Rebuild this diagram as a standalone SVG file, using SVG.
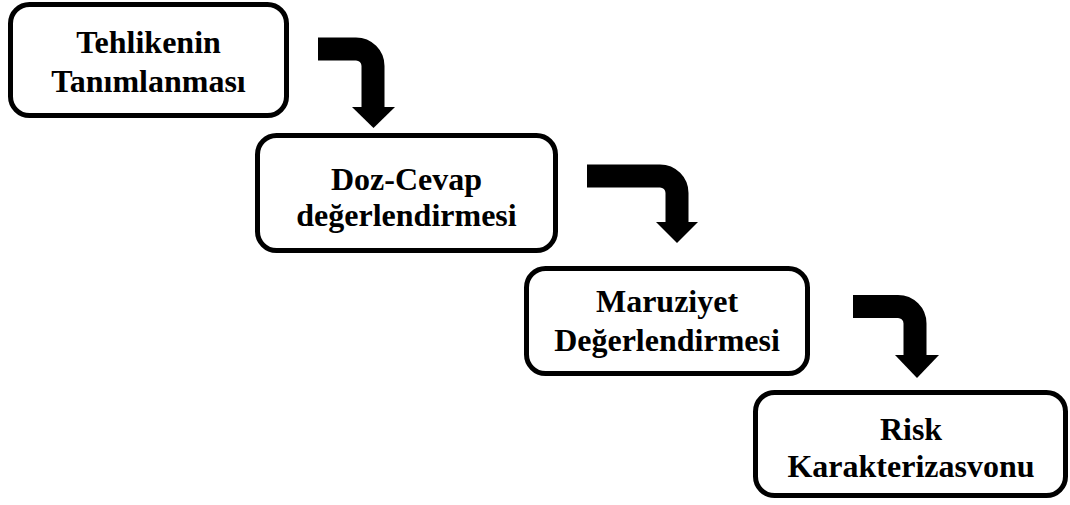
<svg xmlns="http://www.w3.org/2000/svg" width="1070" height="505" viewBox="0 0 1070 505">
<style>
.box{fill:#fff;stroke:#000;stroke-width:5}
.t{font-family:"Liberation Serif","Times New Roman",serif;font-weight:bold;font-size:32px;fill:#000;text-anchor:middle}
.body{fill:none;stroke:#000;stroke-width:23;stroke-linejoin:round}
.head{fill:#000}
</style>
<rect width="1070" height="505" fill="#fff"/>
<g id="connectors">
<path class="body" d="M318,49 H356 A17,17 0 0 1 373,66 V108"/>
<polygon class="head" points="352,107 395,107 373.5,128"/>
<path class="body" d="M587,176 H660 A17,17 0 0 1 677,193 V223"/>
<polygon class="head" points="656,222 698,222 677,243"/>
<path class="body" d="M853,306.5 H898 A17,17 0 0 1 915,323.5 V356"/>
<polygon class="head" points="895,355 939,355 917,378"/>
</g>
<g id="n1">
<rect class="box" x="10.5" y="4.5" width="276" height="111" rx="19"/>
<text class="t" x="148.5" y="53">Tehlikenin</text>
<text class="t" x="148.5" y="92">Tanımlanması</text>
</g>
<g id="n2">
<rect class="box" x="257.5" y="135.5" width="298" height="115" rx="19"/>
<text class="t" x="406.5" y="190">Doz-Cevap</text>
<text class="t" x="406.5" y="226">değerlendirmesi</text>
</g>
<g id="n3">
<rect class="box" x="526.5" y="268.5" width="281" height="105" rx="19"/>
<text class="t" x="667" y="312">Maruziyet</text>
<text class="t" x="667" y="351">Değerlendirmesi</text>
</g>
<g id="n4">
<rect class="box" x="755.5" y="392.5" width="310" height="103" rx="19"/>
<text class="t" x="911" y="440">Risk</text>
<text class="t" x="911" y="477">Karakterizasvonu</text>
</g>
</svg>
